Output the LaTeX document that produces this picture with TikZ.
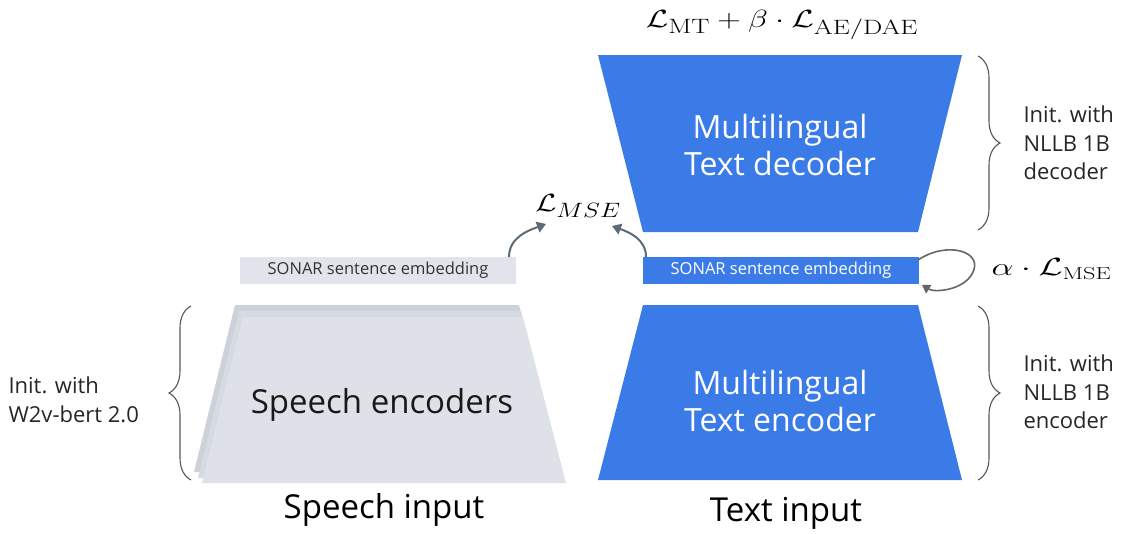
\documentclass[tikz,border=0pt]{standalone}
\usepackage[no-math]{fontspec}
\usepackage{graphicx}
\setsansfont{Open Sans}
\usetikzlibrary{arrows.meta,decorations.pathreplacing}
\definecolor{metablue}{HTML}{3A7BE8}
\definecolor{sonargray}{HTML}{E1E4EA}
\definecolor{spfront}{HTML}{DEE1E8}
\definecolor{spmid}{HTML}{D6DAE1}
\definecolor{spback}{HTML}{CDD1D9}
\definecolor{arrowgray}{HTML}{5B6B78}
\definecolor{bracegray}{HTML}{555555}
\tikzset{
  sonarbox/.style={minimum width=276pt,minimum height=27pt,inner sep=0pt,font=\sffamily\fontsize{16.5}{18}\selectfont},
  blocklabel/.style={text=white,align=center,font=\sffamily\fontsize{32}{37}\selectfont},
  sidelabel/.style={align=left,anchor=west,font=\sffamily\fontsize{22}{28.5}\selectfont,text=black!85},
  inputlabel/.style={font=\sffamily\fontsize{33}{36}\selectfont},
  bracestyle/.style={draw=bracegray,line width=1.1pt,decorate,decoration={brace,amplitude=22pt}},
  lossarrow/.style={draw=arrowgray,line width=2pt,-{Triangle[length=9pt,width=11pt]}},
}
\begin{document}
\begin{tikzpicture}[x=1pt,y=-1pt]
\useasboundingbox (0,0) rectangle (1129,533);
% decoder
\fill[metablue] (598,55) -- (962,55) -- (918,232) -- (643,232) -- cycle;
\node[blocklabel] (dec) at (780,145) {Multilingual\\Text decoder};
% encoder
\fill[metablue] (643,305) -- (918,305) -- (962,480) -- (598,480) -- cycle;
\node[blocklabel] (enc) at (780,401) {Multilingual\\Text encoder};
% speech encoders (stacked)
\fill[spback] (235,305) -- (519,305) -- (562,472) -- (194,472) -- cycle;
\fill[spmid] (239,311) -- (521,311) -- (564,478) -- (198,478) -- cycle;
\fill[spfront] (243,317) -- (523,317) -- (566,483) -- (202,483) -- cycle;
\node[font=\sffamily\fontsize{33}{36}\selectfont,text=black!90] (spenc) at (382,405) {Speech encoders};
% SONAR embeddings
\node[sonarbox,fill=sonargray,text=black!80] (sps) at (378,270.5) {SONAR sentence embedding};
\node[sonarbox,fill=metablue,text=white] (txs) at (781,270.5) {SONAR sentence embedding};
% losses
\node[font=\fontsize{28}{32}\selectfont] (top) at (782,25) {\scalebox{1.31}[1]{$\mathcal{L}_{\mathrm{MT}}+\beta\cdot\mathcal{L}_{\mathrm{AE/DAE}}$}};
\node[font=\fontsize{28}{32}\selectfont] (mse) at (578,206) {\scalebox{1.23}[1]{$\mathcal{L}_{MSE}$}};
\node[anchor=west,font=\fontsize{26}{30}\selectfont] (amse) at (988,269) {\scalebox{1.4}[1]{$\alpha\cdot\mathcal{L}_{\mathrm{MSE}}$}};
% arrows
\coordinate (a1s) at (509,257);
\coordinate (a1e) at (546,224);
\coordinate (a2s) at (646,257);
\coordinate (a2e) at (612,226);
\draw[lossarrow] (a1s) to[out=90,in=200] (a1e);
\draw[lossarrow] (a2s) to[out=90,in=-20] (a2e);
% self loop
\coordinate (ls) at (918,260);
\coordinate (le) at (922,285);
\draw[draw=bracegray!90,line width=1.6pt,-{Triangle[length=8pt,width=10pt]}]
  (ls) .. controls (948,240) and (985,252) .. (972,274) .. controls (963,290) and (935,293) .. (le);
% braces
\draw[bracestyle] (978,56) -- (978,230);
\draw[bracestyle] (978,306) -- (978,480);
\draw[bracestyle] (191,480) -- (191,306);
% side labels
\node[sidelabel] (dinit) at (1020,143) {Init. with\\NLLB 1B\\decoder};
\node[sidelabel] (einit) at (1020,392) {Init. with\\NLLB 1B\\encoder};
\node[sidelabel] (sinit) at (5,400) {Init. with\\W2v-bert 2.0};
% inputs
\node[inputlabel] (spin) at (384,510) {Speech input};
\node[inputlabel] (txin) at (786,513) {Text input};
\end{tikzpicture}
\end{document}
